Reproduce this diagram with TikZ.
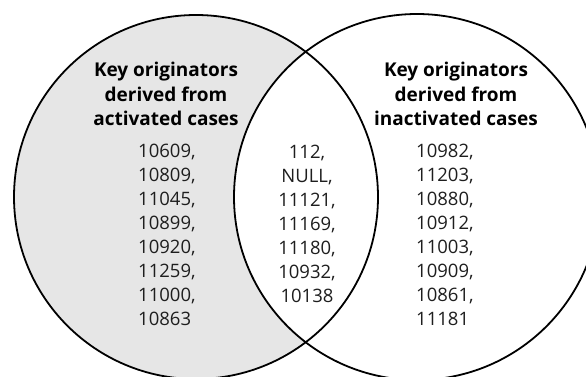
\documentclass[tikz,border=0pt]{standalone}
\usepackage{fontspec}
\setmainfont{Open Sans}
\definecolor{setgray}{HTML}{E6E6E6}
\definecolor{numgray}{HTML}{1E1E1E}
\tikzset{
  setline/.style={draw=black, line width=1.8pt},
  heading/.style={font=\fontsize{19}{24}\selectfont\bfseries, align=center, anchor=base, inner sep=0pt},
  idlist/.style={font=\fontsize{18.5}{24}\selectfont, text=numgray, anchor=base west, inner sep=0pt},
  idlistc/.style={idlist, align=center, anchor=base}
}
\begin{document}
\begin{tikzpicture}[x=1pt, y=-1pt]
  \useasboundingbox (0,0) rectangle (586,377);
  \clip (0,0) rectangle (586,377);
  % the two sets
  \coordinate (cA) at (196,197);
  \coordinate (cB) at (417,197);
  \fill[setgray] (cA) circle[radius=182];
  \begin{scope}
    \clip (cB) circle[radius=183];
    \fill[white] (cA) circle[radius=182];
  \end{scope}
  \draw[setline] (cA) circle[radius=182];
  \draw[setline] (cB) circle[radius=183];
  % headings (placed by the baseline of their last line)
  \node[heading] (hA) at (166,125) {Key originators\\derived from\\activated cases};
  \node[heading] (hB) at (456,125) {Key originators\\derived from\\inactivated cases};
  % identifiers in each region
  \node[idlist, align=left] (lA) at (138,325) {10609,\\10809,\\11045,\\10899,\\10920,\\11259,\\11000,\\10863};
  \node[idlistc] (lAB) at (307,302) {112,\\NULL,\\11121,\\11169,\\11180,\\10932,\\10138};
  \node[idlist, align=left] (lB) at (416,325) {10982,\\11203,\\10880,\\10912,\\11003,\\10909,\\10861,\\11181};
\end{tikzpicture}
\end{document}
